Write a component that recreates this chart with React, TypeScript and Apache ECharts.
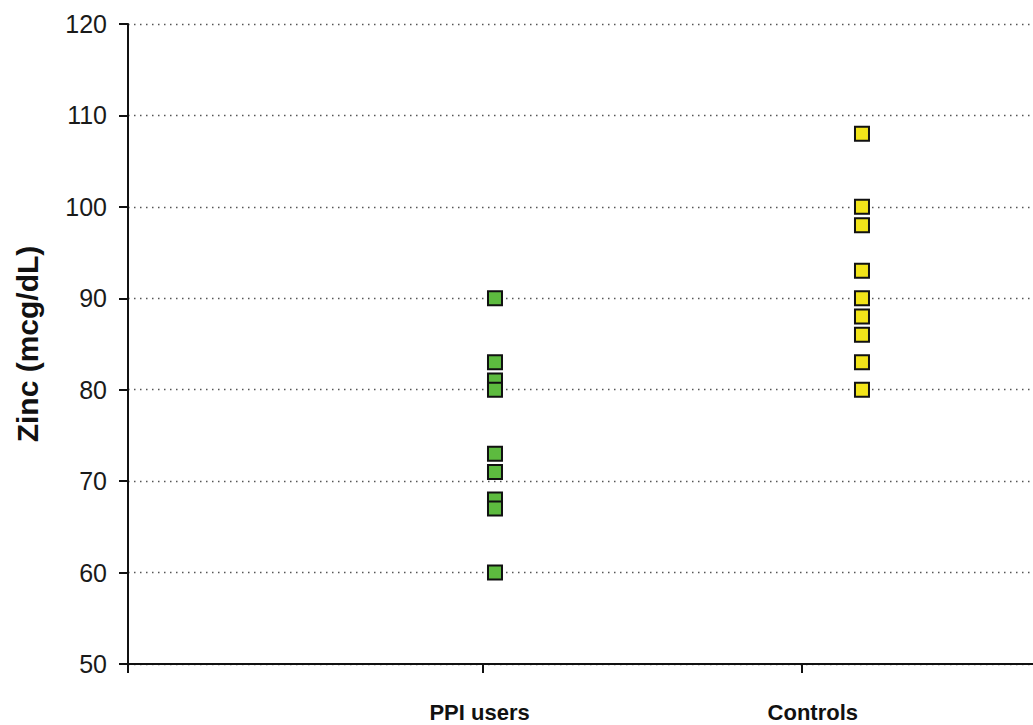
import React, { useEffect, useRef } from "react";
import * as echarts from "echarts";

// Groups and measured serum zinc values (mcg/dL)
const categories = ["PPI users", "Controls"];
const ppiUsers = [90, 83, 81, 80, 73, 71, 68, 67, 60];
const controls = [108, 100, 98, 93, 90, 88, 86, 83, 80];
const yTicks = [50, 60, 70, 80, 90, 100, 110, 120];

// Horizontal placement on the group axis
const groupPos = [1, 2];
const tickPos = [0, 0.967, 1.837];
const labelPos = [0.958, 1.866];

const FONT = "'Liberation Sans', Arial, Helvetica, sans-serif";

export default function App() {
  const ref = useRef<HTMLDivElement>(null);

  useEffect(() => {
    if (!ref.current) return;
    const chart = echarts.init(ref.current, undefined, { renderer: "svg" });

    const makeSeries = (values: number[], gi: number, color: string) => ({
      type: "scatter",
      name: categories[gi],
      symbol: "rect",
      symbolSize: 14,
      data: values.map((v) => [groupPos[gi], v]),
      itemStyle: { color, borderColor: "#111", borderWidth: 2, opacity: 1 },
      z: 5,
    });

    chart.setOption({
      animation: false,
      backgroundColor: "#ffffff",
      grid: { left: 128, right: 0, top: 24, bottom: 61, containLabel: false },
      xAxis: {
        type: "value",
        min: 0,
        max: 2.466,
        splitLine: { show: false },
        axisLine: { show: true, lineStyle: { color: "#111", width: 2 } },
        axisTick: {
          show: true,
          customValues: tickPos,
          length: 9,
          inside: false,
          lineStyle: { color: "#111", width: 2 },
        },
        axisLabel: {
          show: true,
          customValues: labelPos,
          margin: 37,
          fontFamily: FONT,
          fontSize: 22,
          fontWeight: "bold",
          color: "#111",
          formatter: (v: number) => {
            const i = labelPos.findIndex((p) => Math.abs(p - v) < 0.01);
            return i >= 0 ? categories[i] : "";
          },
        },
      },
      yAxis: {
        type: "value",
        min: yTicks[0],
        max: yTicks[yTicks.length - 1],
        interval: 10,
        name: "Zinc (mcg/dL)",
        nameLocation: "middle",
        nameGap: 86,
        nameRotate: 90,
        nameTextStyle: {
          fontFamily: FONT,
          fontSize: 30,
          fontWeight: "bold",
          color: "#111",
        },
        axisLine: { show: true, lineStyle: { color: "#111", width: 2 } },
        axisTick: { show: true, length: 9, lineStyle: { color: "#111", width: 2 } },
        axisLabel: {
          margin: 21,
          fontFamily: FONT,
          fontSize: 25,
          color: "#1a1a1a",
        },
        splitLine: {
          show: true,
          lineStyle: { color: "#555", width: 1.3, type: [1.5, 4.5] },
        },
      },
      series: [
        makeSeries(ppiUsers, 0, "#5dbb3f"),
        makeSeries(controls, 1, "#f2e41a"),
      ],
    });

    return () => chart.dispose();
  }, []);

  return (
    <div
      ref={ref}
      style={{ position: "fixed", left: 0, top: 0, width: 1033, height: 725, background: "#fff" }}
    />
  );
}
